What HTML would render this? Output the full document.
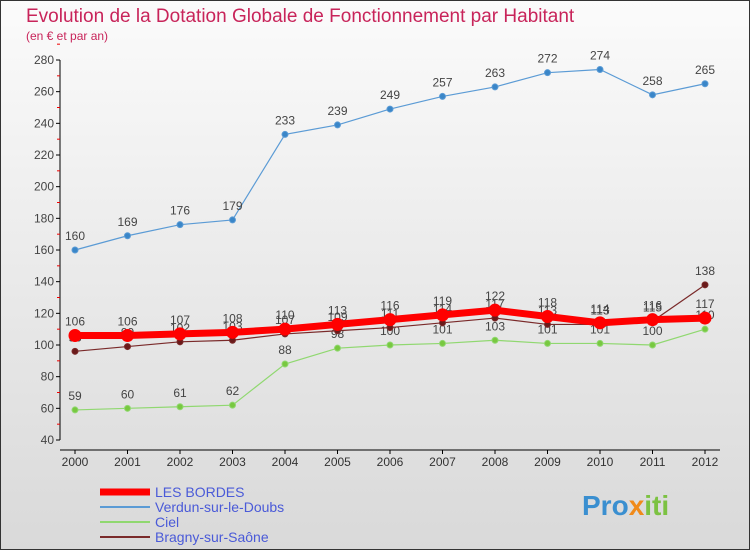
<!DOCTYPE html>
<html><head><meta charset="utf-8"><style>
body{margin:0;width:750px;height:550px;overflow:hidden;font-family:"Liberation Sans",sans-serif}
</style></head><body>
<svg width="750" height="550" xmlns="http://www.w3.org/2000/svg">
<defs><linearGradient id="bg" x1="0" y1="0" x2="0" y2="1"><stop offset="0" stop-color="#fbfbfb"/><stop offset="1" stop-color="#d9d9d9"/></linearGradient></defs>
<rect x="0.5" y="0.5" width="749" height="549" fill="url(#bg)" stroke="#333"/>
<text x="26" y="22" font-size="19" fill="#c8245a">Evolution de la Dotation Globale de Fonctionnement par Habitant</text>
<text x="26" y="40" font-size="12" fill="#c8245a">(en € et par an)</text>
<g id="axes"></g><g id="series"></g><g id="legend"></g>
<text x="582" y="515" font-size="28" font-weight="bold" fill="#3a8fd0">Pro<tspan fill="#f08a1a">x</tspan><tspan fill="#7cc242">iti</tspan></text>
</svg>
<script>
const years=[2000,2001,2002,2003,2004,2005,2006,2007,2008,2009,2010,2011,2012];
const lesBordes=[106,106,107,108,110,113,116,119,122,118,114,116,117];
const verdun=[160,169,176,179,233,239,249,257,263,272,274,258,265];
const ciel=[59,60,61,62,88,98,100,101,103,101,101,100,110];
const bragny=[96,99,102,103,107,109,111,114,117,113,113,115,138];
const yTicks=[40,60,80,100,120,140,160,180,200,220,240,260,280];
const NS="http://www.w3.org/2000/svg";
const x=i=>75+i*52.5;
const y=v=>440-(v-40)*380/240;
function mk(p,t,a){const e=document.createElementNS(NS,t);for(const k in a)e.setAttribute(k,a[k]);p.appendChild(e);return e;}
const ax=document.getElementById('axes');
let l=mk(ax,'line',{x1:60,y1:y(280),x2:60,y2:y(40),stroke:'#000'});


yTicks.forEach(v=>{
  mk(ax,'line',{x1:56,x2:60,y1:y(v),y2:y(v),stroke:'#000'});
  mk(ax,'line',{x1:57,x2:60,y1:y(v+10),y2:y(v+10),stroke:'#e00'});
  const t=mk(ax,'text',{x:54,y:y(v)+4,'font-size':12,'text-anchor':'end',fill:'#444'});t.textContent=v;
  
  
});
let xa=mk(ax,'line',{x1:60,y1:450,x2:720,y2:450,stroke:'#000'});


years.forEach((yr,i)=>{
  mk(ax,'line',{x1:x(i),x2:x(i),y1:450,y2:454,stroke:'#000'});
  const t=mk(ax,'text',{x:x(i),y:466,'font-size':12,'text-anchor':'middle',fill:'#333'});t.textContent=yr;
  
  
});
const sg=document.getElementById('series');
function series(d,name,col,w,r,dot,lab){
  const g=mk(sg,'g',{});
  
  
  mk(g,'polyline',{points:d.map((v,i)=>x(i)+','+y(v)).join(' '),fill:'none',stroke:col,'stroke-width':w});
  d.forEach((v,i)=>{
    const c=mk(g,'circle',{cx:x(i),cy:y(v),r:r,fill:dot,stroke:col});
    
    
    const t=mk(g,'text',{x:x(i),y:y(v)-10,'font-size':12,'text-anchor':'middle',fill:'#444'});t.textContent=v;
  });
}
series(verdun,'series-verdun','#5b9bd5',1.2,3,'#3a86c8');
series(ciel,'series-ciel','#90d870',1.2,3,'#78c840');
series(bragny,'series-bragny','#7a2a2a',1.2,3,'#6a1a1a');
series(lesBordes,'series-les-bordes','#f00',7,6,'#f00');
const lg=document.getElementById('legend');
const items=[['LES BORDES','#f00',7],['Verdun-sur-le-Doubs','#5b9bd5',2],['Ciel','#90d870',2],['Bragny-sur-Saône','#7a2a2a',2]];
items.forEach((it,i)=>{
  const g=mk(lg,'g',{});
  
  
  mk(g,'line',{x1:100,x2:150,y1:492+i*15,y2:492+i*15,stroke:it[1],'stroke-width':it[2]});
  const t=mk(g,'text',{x:155,y:497+i*15,'font-size':14,fill:'#4a5ad8'});t.textContent=it[0];
});
</script>
</body></html>
